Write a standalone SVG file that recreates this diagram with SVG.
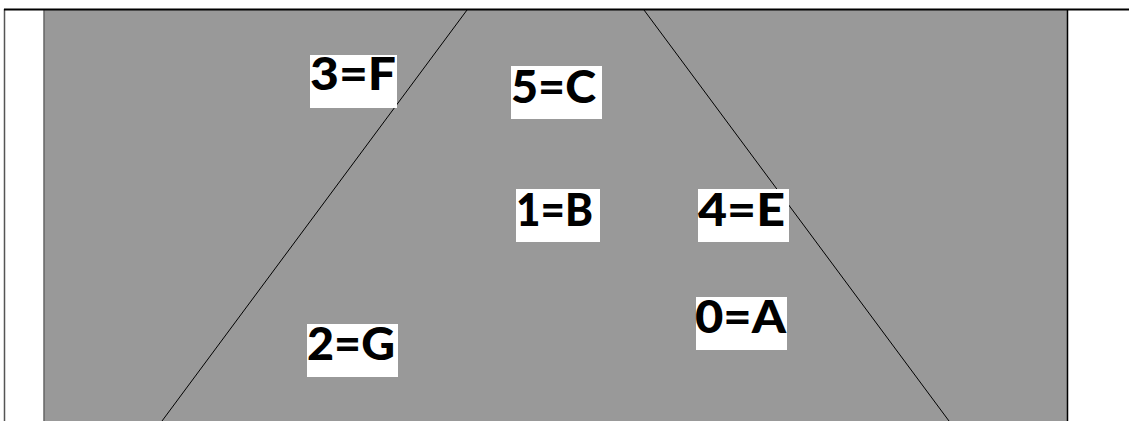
<svg xmlns="http://www.w3.org/2000/svg" width="1129" height="421" viewBox="0 0 1129 421">
<style>
.lbl{fill:#fff}
.t{font-family:Lato,"Liberation Sans",Arial,sans-serif;font-weight:900;font-size:45px;fill:#000}
.ln{stroke:#000;stroke-width:1;fill:none}
</style>
<rect x="0" y="0" width="1129" height="421" fill="#fff"/>
<g id="background">
<rect x="44" y="10" width="1024" height="411" fill="#999999"/>
<line x1="44" y1="10" x2="44" y2="421" stroke="#666" stroke-width="1.5"/>
<line x1="1067.5" y1="10" x2="1067.5" y2="421" stroke="#000" stroke-width="1.5"/>
<line x1="4.5" y1="9" x2="4.5" y2="421" stroke="#555" stroke-width="1.5"/>
<line x1="4" y1="9.5" x2="1129" y2="9.5" stroke="#000" stroke-width="1.8"/>
</g>
<g id="connectors">
<line class="ln" x1="467" y1="10" x2="162" y2="421"/>
<line class="ln" x1="644" y1="10" x2="949" y2="421"/>
</g>
<g id="node-3F">
<rect class="lbl" x="310" y="55" width="87" height="53"/>
<text class="t" x="310" y="90" textLength="86" lengthAdjust="spacingAndGlyphs">3=F</text>
</g>
<g id="node-5C">
<rect class="lbl" x="511" y="66" width="91" height="53"/>
<text class="t" x="511" y="103" textLength="85" lengthAdjust="spacingAndGlyphs">5=C</text>
</g>
<g id="node-1B">
<rect class="lbl" x="516" y="189" width="84" height="53"/>
<text class="t" x="516" y="226" textLength="77" lengthAdjust="spacingAndGlyphs">1=B</text>
</g>
<g id="node-4E">
<rect class="lbl" x="698" y="189" width="91" height="53"/>
<text class="t" x="698" y="226" textLength="87" lengthAdjust="spacingAndGlyphs">4=E</text>
</g>
<g id="node-2G">
<rect class="lbl" x="307" y="324" width="91" height="53"/>
<text class="t" x="307" y="360" textLength="88" lengthAdjust="spacingAndGlyphs">2=G</text>
</g>
<g id="node-0A">
<rect class="lbl" x="696" y="297" width="91" height="53"/>
<text class="t" x="695" y="333" textLength="91" lengthAdjust="spacingAndGlyphs">0=A</text>
</g>
</svg>
